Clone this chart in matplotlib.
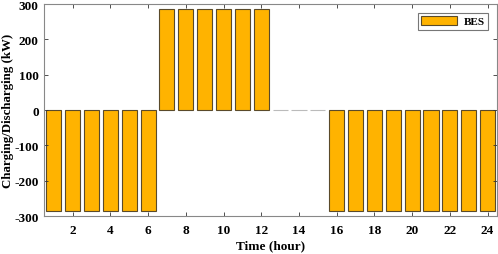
import matplotlib.pyplot as plt
import numpy as np

hours = list(range(1, 25))
bes_power = [-285, -285, -285, -285, -285, -285,
             285, 285, 285, 285, 285, 285,
             0, 0, 0,
             -285, -285, -285, -285, -285, -285, -285, -285, -285]
xtick_vals = list(range(2, 25, 2))
ytick_vals = [-300, -200, -100, 0, 100, 200, 300]

plt.rcParams['font.family'] = ['Liberation Serif', 'DejaVu Serif']
plt.rcParams['font.weight'] = 'bold'
plt.rcParams['axes.unicode_minus'] = False

fig = plt.figure(figsize=(4.98, 2.55), dpi=100)
ax = fig.add_axes([0.089, 0.149, 0.909, 0.831])

# empty hours only leave a faint line at zero
edge_cols = ['#5a4a2a' if v != 0 else '#bbbbbb' for v in bes_power]
ax.bar(hours, bes_power, width=0.8, color='#FFB300', edgecolor=edge_cols,
       linewidth=0.8, label='BES')

ax.set_xlim(0.5, 24.5)
ax.set_ylim(-300, 300)
ax.set_xticks(xtick_vals)
ax.set_yticks(ytick_vals)
ax.tick_params(direction='in', top=True, right=True, labelsize=9.5,
               length=3, width=0.6, color='#333333')
ax.tick_params(axis='x', pad=6)
ax.tick_params(axis='y', pad=4)
for lab in ax.get_xticklabels() + ax.get_yticklabels():
    lab.set_fontweight('bold')
for sp in ax.spines.values():
    sp.set_color('#888888')
    sp.set_linewidth(0.8)

ax.set_xlabel('Time (hour)', fontsize=9.5, fontweight='bold', labelpad=2)
ax.set_ylabel('Charging/Discharging (kW)', fontsize=9.3, fontweight='bold', labelpad=0)

leg = ax.legend(loc='upper right', fontsize=8, fancybox=False, edgecolor='#555555',
                handlelength=3.2, handleheight=0.8, borderpad=0.3, handletextpad=0.6,
                borderaxespad=0.8)
leg.legend_handles[0].set_edgecolor('#5a4a2a')
leg.get_frame().set_linewidth(0.8)
for t in leg.get_texts():
    t.set_fontweight('bold')

fig.savefig('out.png', dpi=100)
